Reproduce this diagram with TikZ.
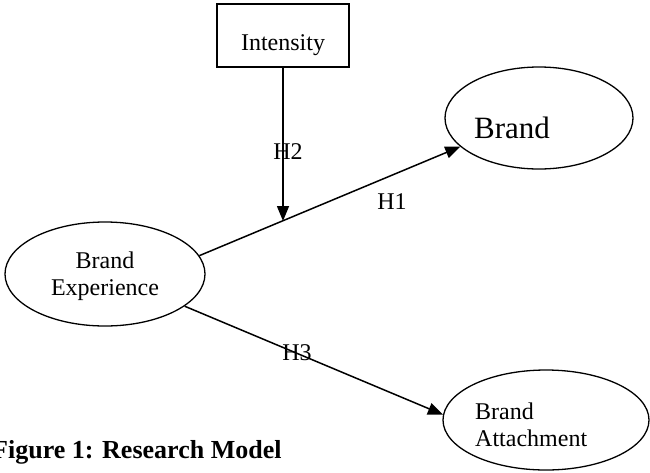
\documentclass[tikz,border=0pt]{standalone}
\usepackage{fontspec}
\setmainfont{Liberation Serif}
\usetikzlibrary{shapes.geometric,arrows.meta}
\begin{document}
\begin{tikzpicture}[x=1pt,y=-1pt,
  lbl/.style={inner sep=0pt,font=\fontsize{24}{27}\selectfont},
  oval/.style={draw,ellipse,line width=1.3pt,inner sep=0pt},
  conn/.style={line width=1.5pt,-{Triangle[length=15pt,width=12pt]}}]
\useasboundingbox (0,0) rectangle (650,472);
% boxes and ovals
\node[draw,line width=1.3pt,minimum width=132pt,minimum height=63pt,inner sep=0pt] (int) at (283,35.5) {};
\node[lbl] (inttxt) at (283,45) {Intensity};
\node[oval,minimum width=200pt,minimum height=104pt] (be) at (105,274) {};
\node[lbl,align=center] (betxt) at (105,276) {Brand\\Experience};
\node[oval,minimum width=188pt,minimum height=102pt] (brand) at (539,118) {};
\node[inner sep=0pt,font=\fontsize{31}{34}\selectfont] (brandtxt) at (512,128) {Brand};
\node[oval,minimum width=206pt,minimum height=100pt] (ba) at (546,420) {};
\node[lbl,align=left,anchor=west] (batxt) at (475,425) {Brand\\Attachment};
% connectors
\draw[conn] (be.11) -- (brand.200);
\coordinate (m) at (283,221);
\draw[conn] (int.south) -- (m);
\draw[conn] (be.338) -- (ba.177);
% labels
\node[lbl] (h2) at (288,152) {H2};
\node[lbl] (h1) at (392,202) {H1};
\node[lbl] (h3) at (297,353) {H3};
\node[inner sep=0pt,anchor=west,font=\fontsize{26}{28}\selectfont\bfseries] (cap) at (-8,452) {Figure 1: Research Model};
\end{tikzpicture}
\end{document}
